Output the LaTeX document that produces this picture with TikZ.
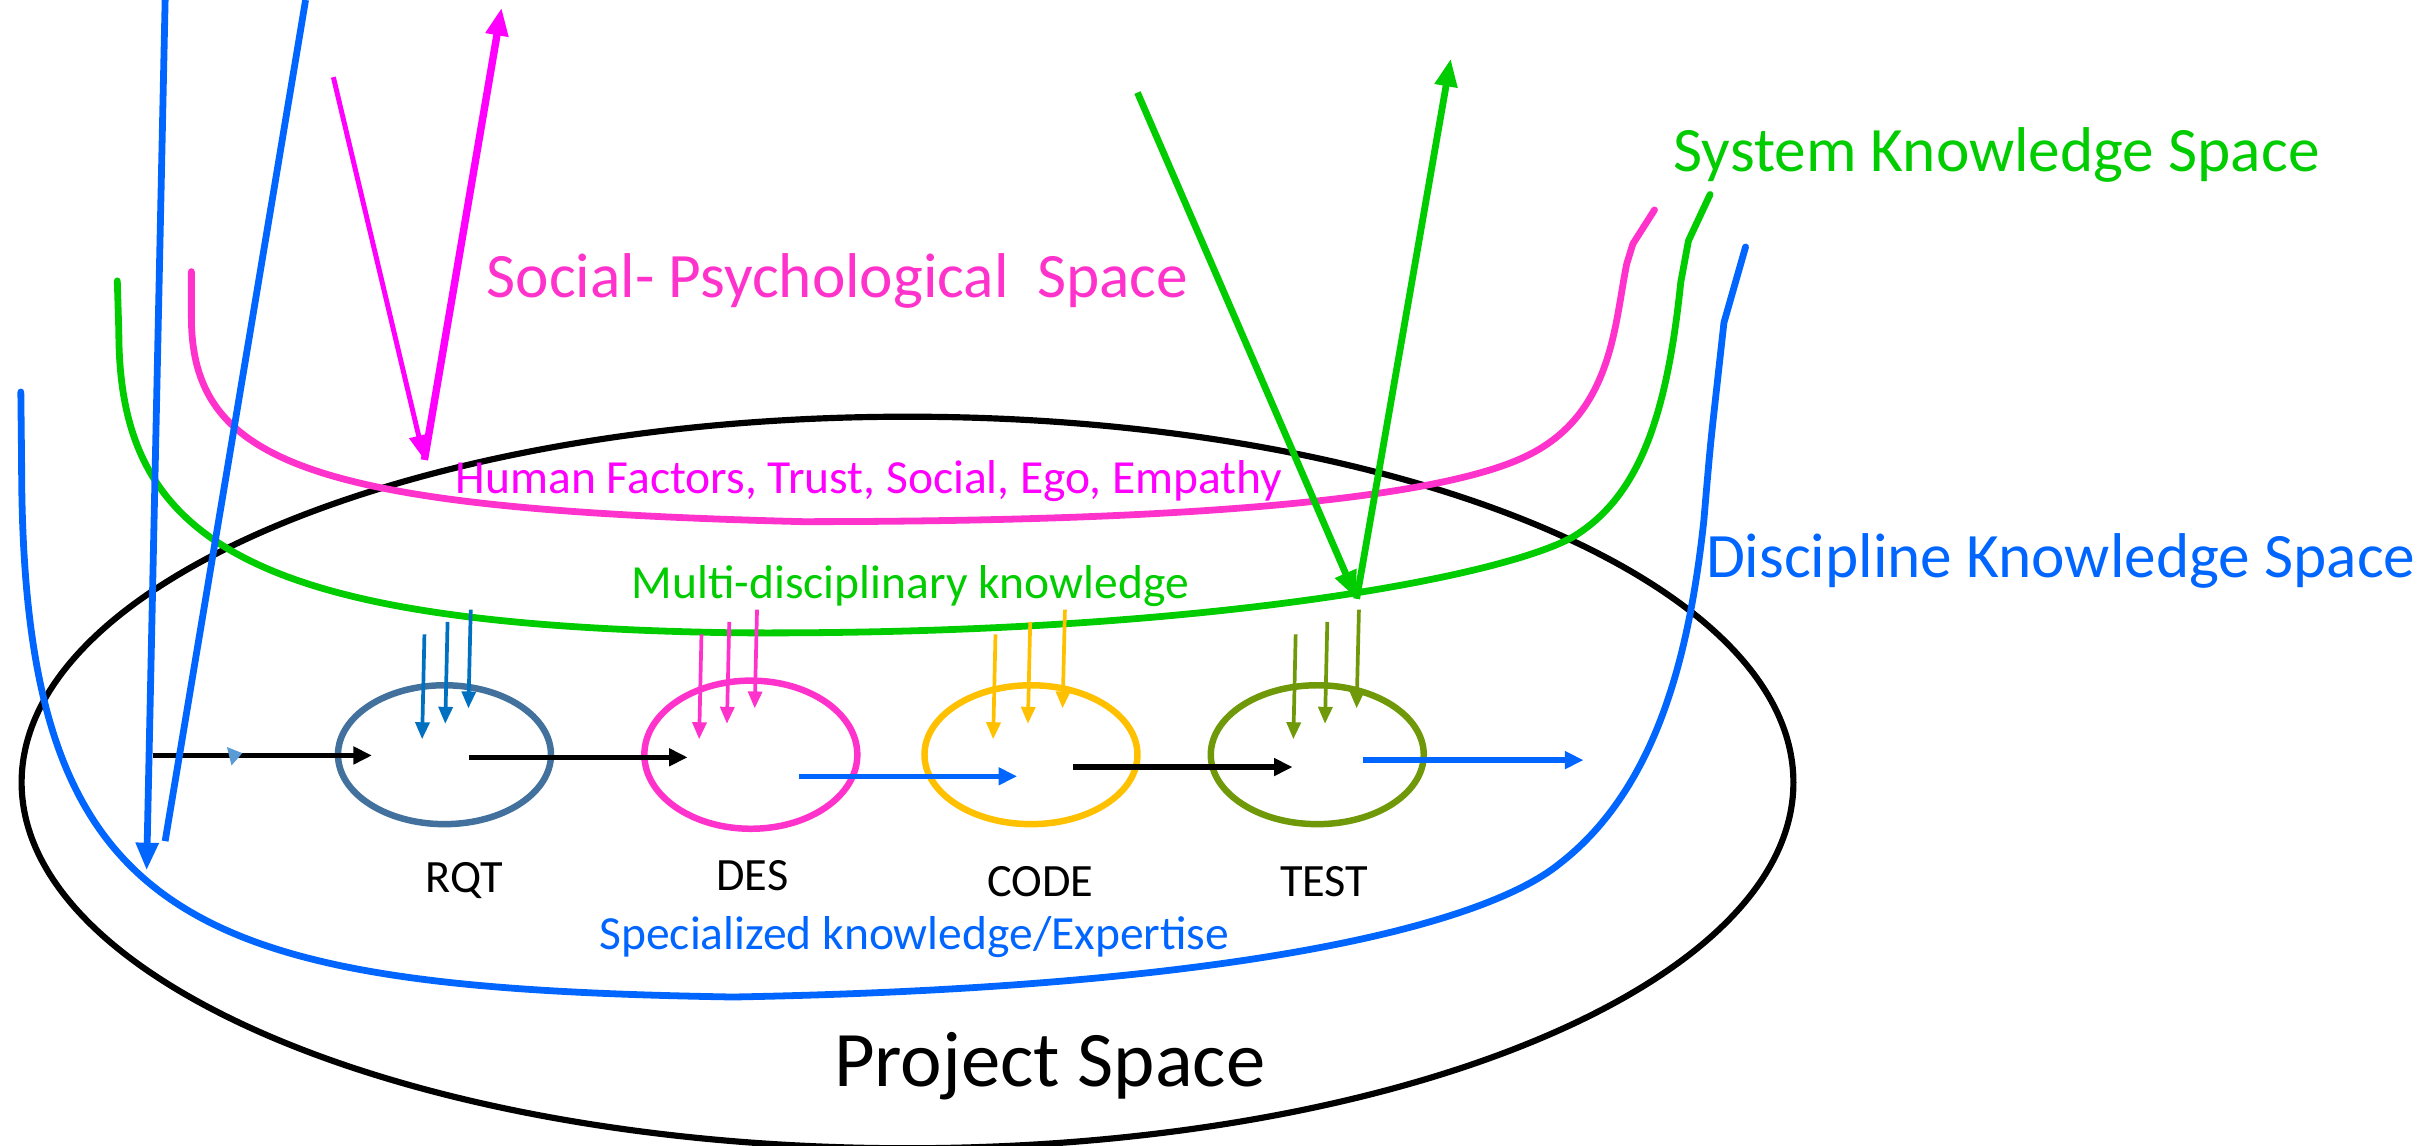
\documentclass[tikz,border=0pt]{standalone}
\usepackage{fontspec}
\setmainfont{Carlito}
\usetikzlibrary{arrows.meta,calc,positioning,shapes.geometric}
\definecolor{socialpink}{RGB}{255,51,204}
\definecolor{humanmag}{RGB}{255,0,255}
\definecolor{sysgreen}{RGB}{0,204,0}
\definecolor{discblue}{RGB}{0,102,255}
\definecolor{rqtblue}{RGB}{65,113,156}
\definecolor{rqtarrow}{RGB}{0,112,192}
\definecolor{codegold}{RGB}{255,192,0}
\definecolor{testolive}{RGB}{112,153,10}
\definecolor{tinyblue}{RGB}{91,155,213}

\begin{document}
\begin{tikzpicture}[
        x={(0.5pt,0)},
        y={(0,-0.5pt)},
        phase/.style={ellipse, draw, line width=2.1pt, minimum width=69pt, minimum height=45pt, inner sep=0pt},
        phaselabel/.style={font=\fontsize{15}{18}\selectfont, anchor=base, inner sep=0pt},
        spacecurve/.style={line width=2.2pt, line cap=round, line join=round},
        feed/.style={line width=1.2pt, -{Triangle[length=5.5pt,width=4.5pt]}},
        flow/.style={line width=1.8pt, -{Triangle[length=6pt,width=5.5pt]}},
        bigtext/.style={font=\fontsize{20.5}{24}\selectfont, anchor=base west, inner sep=0pt},
        smalltext/.style={font=\fontsize{15.4}{18}\selectfont, anchor=base west, inner sep=0pt},
    ]
    \useasboundingbox (0,0) rectangle (1568,742);
    % project space
    \draw[line width=2pt] (588,507) ellipse [x radius=287pt, y radius=118.5pt];
    \node[font=\fontsize{25.5}{30}\selectfont, anchor=base west, inner sep=0pt] (project) at (540,704) {Project Space};
    % the three knowledge spaces
    \draw[spacecurve, socialpink] (124,176) -- (124,205)
        .. controls (124,300) and (200,330) .. (520,338)
        .. controls (800,338) and (940,320) .. (990,295)
        .. controls (1045,268) and (1046,210) .. (1054,171) -- (1058,158) -- (1072,136);
    \draw[spacecurve, sysgreen] (76,182) -- (77,215)
        .. controls (77,350) and (160,405) .. (475,410)
        .. controls (770,412) and (970,375) .. (1019,348)
        .. controls (1062,322) and (1080,270) .. (1089,183) -- (1094,156) -- (1108,126);
    \draw[spacecurve, discblue] (13.5,254) -- (14,300)
        .. controls (14,600) and (120,640) .. (475,646)
        .. controls (800,640) and (960,600) .. (1010,560)
        .. controls (1075,510) and (1095,420) .. (1104,337)
        .. controls (1108,290) .. (1112,254) -- (1117,209) -- (1131,160);
    \node[bigtext, socialpink] (social) at (315,193) {Social- Psychological\ \ Space};
    \node[bigtext, sysgreen] (system) at (1084,111) {System Knowledge Space};
    \node[bigtext, discblue] (discipline) at (1105,374) {Discipline Knowledge Space};
    \node[smalltext, humanmag] (human) at (295,320) {Human Factors, Trust, Social, Ego, Empathy};
    \node[smalltext, sysgreen] (multi) at (409,388) {Multi-disciplinary knowledge};
    \node[smalltext, discblue] (special) at (388,615) {Specialized knowledge/Expertise};
    % phases
    \node[phase, draw=rqtblue] (rqt) at (288,489) {};
    \node[phase, draw=socialpink, minimum height=48pt] (des) at (486.5,489) {};
    \node[phase, draw=codegold] (code) at (668,489) {};
    \node[phase, draw=testolive] (test) at (853.5,489) {};
    \node[phaselabel] (rqtlabel) at ($(rqt)+(13,89)$) {RQT};
    \node[phaselabel] (deslabel) at ($(des)+(1,88)$) {DES};
    \node[phaselabel] (codelabel) at ($(code)+(6,92)$) {CODE};
    \node[phaselabel] (testlabel) at ($(test)+(4.5,92)$) {TEST};
    % knowledge feeding each phase
    \foreach \p/\c/\d/\s in {rqt/rqtarrow/-13/15, des/socialpink/-32/18, code/codegold/-23/22.5, test/testolive/-14/20.5}{
        \foreach \i in {0,1,2}{
            \draw[feed, \c] ($(\p)+(\d+\s*\i,-78-8*\i)$) -- ($(\p)+(\d-1.5+\s*\i,-10-10*\i)$);
        }
    }
    % flow between phases
    \coordinate (start) at (99,489.5);
    \draw[flow] (start) -- ($(rqt)+(-47,0.5)$);
    \fill[tinyblue] (147,484) -- (157,488) -- (150,496) -- cycle;
    \draw[flow] ($(rqt)+(16,1.7)$) -- ($(des)+(-41,1.7)$);
    \draw[flow, discblue] ($(des)+(31.5,14)$) -- ($(code)+(-9,14)$);
    \draw[flow] ($(code)+(27,8)$) -- ($(test)+(-16,8)$);
    \draw[flow, discblue] ($(test)+(29.5,3.5)$) -- ($(test)+(172.5,3.5)$);
    % downward and upward links
    \draw[discblue, line width=2.2pt, -{Triangle[length=9pt,width=7pt]}] (107,0) -- (95,564);
    \draw[discblue, line width=2.2pt] (198,0) -- (107,545);
    \coordinate (sp1) at (216,50);
    \coordinate (sp2) at (275,298);
    \coordinate (sp3) at (325,5);
    \draw[humanmag, line width=1.6pt, -{Triangle[length=8pt,width=6pt]}] (sp1) -- (sp2);
    \draw[humanmag, line width=2.4pt, -{Triangle[length=9pt,width=7pt]}] (sp2) -- (sp3);
    \coordinate (sy1) at (737,60);
    \coordinate (sy2) at (879,388);
    \coordinate (sy3) at (940,38);
    \draw[sysgreen, line width=2.2pt, -{Triangle[length=9pt,width=7pt]}] (sy1) -- (sy2);
    \draw[sysgreen, line width=2.2pt, -{Triangle[length=9pt,width=7pt]}] (sy2) -- (sy3);
\end{tikzpicture}
\end{document}
